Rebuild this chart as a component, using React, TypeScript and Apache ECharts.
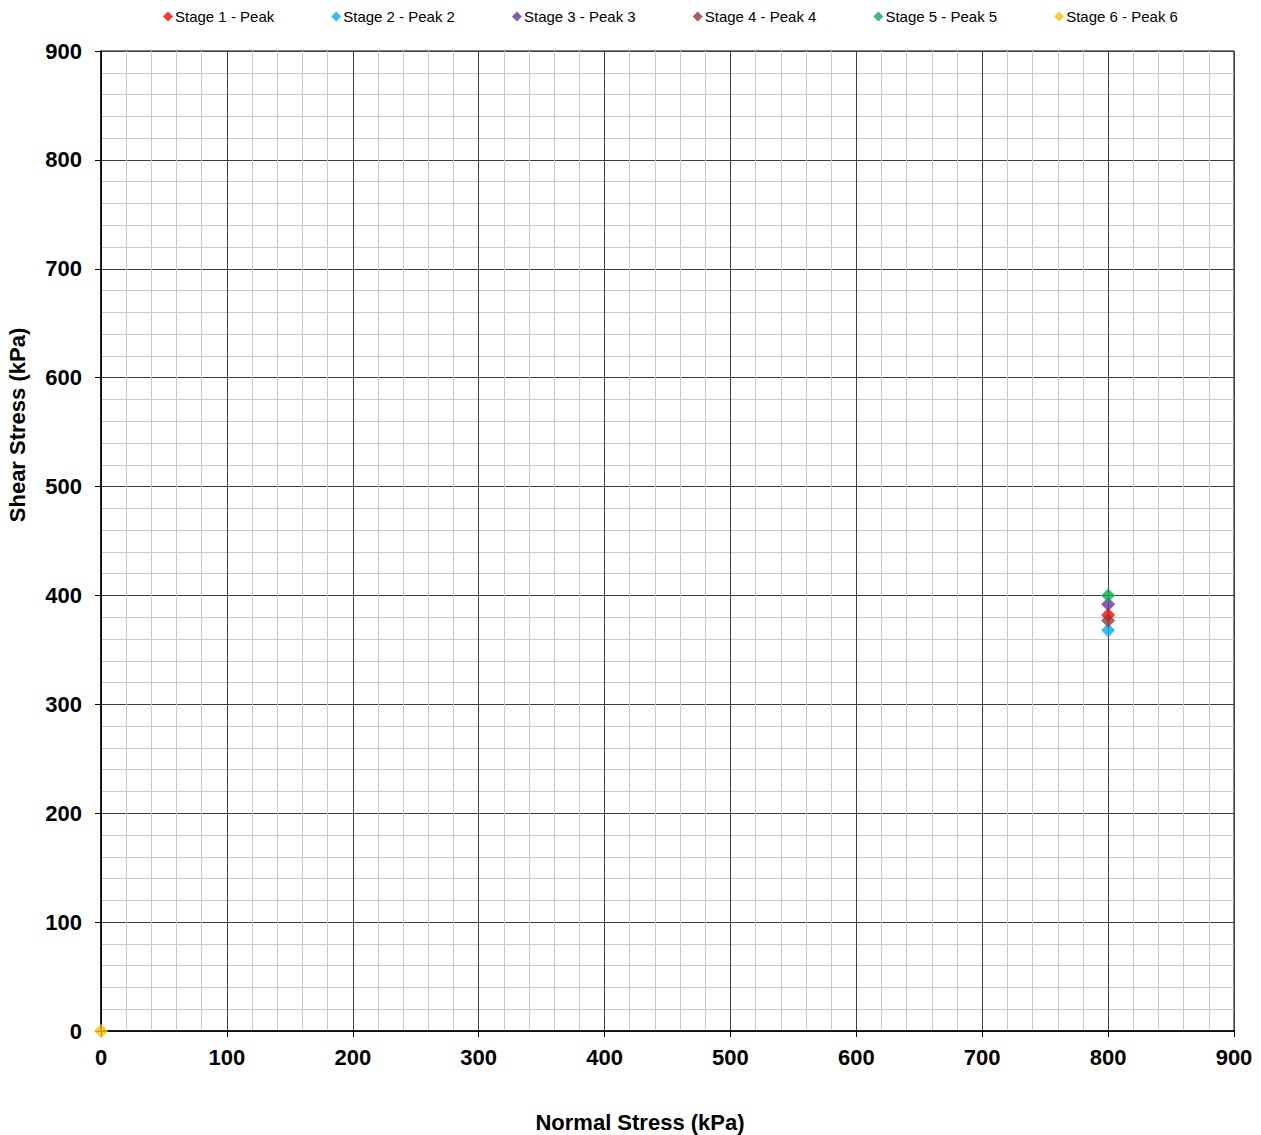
import React, { useEffect, useRef } from "react";
import * as echarts from "echarts";

const seriesNames = [
  "Stage 1 - Peak",
  "Stage 2 - Peak 2",
  "Stage 3 - Peak 3",
  "Stage 4 - Peak 4",
  "Stage 5 - Peak 5",
  "Stage 6 - Peak 6",
];
const seriesColors = ["#ff0000", "#00b0f0", "#7030a0", "#953735", "#00b050", "#ffc000"];
const normalStress = [800, 800, 800, 800, 800, 0];
const shearStress = [382, 368, 392, 377, 400, 0];

const axisMin = 0;
const axisMax = 900;
const axisInterval = 100;
const xAxisTitle = "Normal Stress (kPa)";
const yAxisTitle = "Shear Stress (kPa)";

export default function App() {
  const ref = useRef<HTMLDivElement>(null);
  useEffect(() => {
    const chart = echarts.init(ref.current!, null, { renderer: "svg" });
    const font = "Arial, 'Liberation Sans', sans-serif";
    const makeAxis = (isX: boolean) => ({
      type: "value",
      min: axisMin,
      max: axisMax,
      interval: axisInterval,
      axisLine: { show: true, onZero: false, lineStyle: { color: "#000", width: 1.5 } },
      axisTick: { show: true, inside: false, length: 6, lineStyle: { color: "#000" } },
      axisLabel: { fontFamily: font, fontWeight: "bold", fontSize: 22, color: "#000", margin: isX ? 15 : 19 },
      splitLine: { show: true, lineStyle: { color: "#404040", width: 1 } },
      minorTick: { show: false, splitNumber: 5 },
      minorSplitLine: { show: true, lineStyle: { color: "#c8c8c8", width: 1 } },
    });
    chart.setOption({
      animation: false,
      backgroundColor: "#fff",
      grid: {
        left: 101,
        right: 27,
        top: 51,
        bottom: 104,
        show: true,
        borderColor: "#000",
        borderWidth: 1,
      },
      legend: {
        top: 4,
        left: 158,
        itemGap: 57,
        itemWidth: 10,
        itemHeight: 10,
        textStyle: { fontFamily: font, fontSize: 15, color: "#000", padding: [0, 0, 0, -3] },
        data: seriesNames.map((n) => ({ name: n, icon: "diamond" })),
      },
      graphic: [
        {
          type: "text",
          x: 640,
          y: 1122,
          style: {
            text: xAxisTitle,
            fontFamily: font,
            fontWeight: "bold",
            fontSize: 22,
            fill: "#000",
            align: "center",
            verticalAlign: "middle",
          },
        },
        {
          type: "text",
          x: 17,
          y: 425,
          rotation: Math.PI / 2,
          style: {
            text: yAxisTitle,
            fontFamily: font,
            fontWeight: "bold",
            fontSize: 22,
            fill: "#000",
            align: "center",
            verticalAlign: "middle",
          },
        },
      ],
      xAxis: makeAxis(true),
      yAxis: makeAxis(false),
      series: seriesNames.map((n, i) => ({
        name: n,
        type: "scatter",
        symbol: "diamond",
        symbolSize: 14,
        itemStyle: { color: seriesColors[i] },
        data: [[normalStress[i], shearStress[i]]],
        clip: false,
      })),
    });
    return () => chart.dispose();
  }, []);
  return <div ref={ref} style={{ width: 1261, height: 1135, position: "absolute", left: 0, top: 0 }} />;
}
